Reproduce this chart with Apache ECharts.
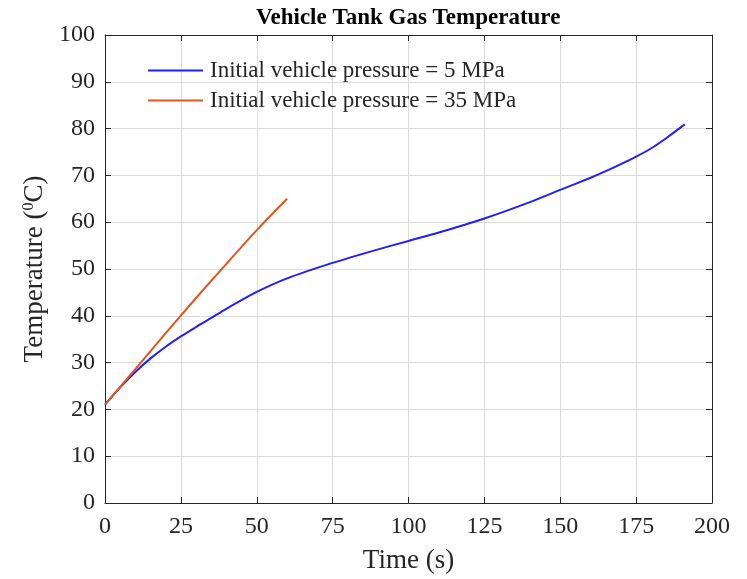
<!DOCTYPE html>
<html>
<head>
<meta charset="utf-8">
<script src="https://cdn.jsdelivr.net/npm/echarts@6/dist/echarts.min.js"></script>
<style>
  html, body { margin: 0; padding: 0; background: #fff; }
  #chart { width: 747px; height: 579px; }
</style>
</head>
<body>
<div id="chart"></div>
<script>
const time5 = [0, 5, 10, 15, 20, 25, 30, 40, 50, 60, 75, 90, 100, 110, 125, 140, 150, 160, 165, 170, 175, 180, 185, 191];
const temp5 = [21, 24.7, 28.0, 30.9, 33.4, 35.6, 37.6, 41.5, 45.1, 48, 51.3, 54.2, 56, 57.8, 60.8, 64.3, 66.9, 69.5, 70.9, 72.4, 74.0, 75.8, 78.0, 80.9];
const time35 = [0, 10, 20, 30, 40, 50, 60];
const temp35 = [21, 28.6, 36.3, 43.8, 51.1, 58.3, 65];
const seriesNames = ['Initial vehicle pressure = 5 MPa', 'Initial vehicle pressure = 35 MPa'];
const seriesColors = ['#1f1fff', '#e0561c'];

const font = 'Liberation Serif';
const axisColor = '#262626';

const zip = (xs, ys) => xs.map((x, i) => [x, ys[i]]);

let dom = document.getElementById('chart');
let myChart = echarts.init(dom, null, {renderer: 'canvas'});

const boxAxis = (extra) => Object.assign({
    type: 'value',
    axisLine: {show: true, onZero: false, lineStyle: {color: axisColor, width: 1}},
    axisTick: {show: true, inside: true, length: 6, lineStyle: {color: axisColor}},
    splitLine: {show: false},
    axisLabel: {show: false}
}, extra);

let option = {
    animation: false,
    backgroundColor: '#fff',
    title: {
        text: 'Vehicle Tank Gas Temperature',
        left: 251,
        top: 2,
        textStyle: {fontFamily: font, fontWeight: 'bold', fontSize: 23, color: '#000'}
    },
    legend: {
        orient: 'vertical',
        left: 143,
        top: 54,
        itemWidth: 55,
        itemHeight: 2,
        itemGap: 7,
        data: seriesNames.map(n => ({name: n, icon: 'rect'})),
        textStyle: {fontFamily: font, fontSize: 23, color: '#262626', padding: [0, 0, 0, 2]}
    },
    grid: {left: 105, right: 35, top: 35, bottom: 75, containLabel: false},
    xAxis: [
        {
            type: 'value', min: 0, max: 200, interval: 25,
            name: 'Time (s)', nameLocation: 'middle', nameGap: 44,
            nameTextStyle: {fontFamily: font, fontSize: 27, color: '#262626'},
            axisLine: {show: true, onZero: false, lineStyle: {color: axisColor, width: 1}},
            axisTick: {show: true, inside: true, length: 6, lineStyle: {color: axisColor}},
            axisLabel: {fontFamily: font, fontSize: 24, color: '#262626', margin: 12},
            splitLine: {show: true, lineStyle: {color: '#dcdcdc', width: 1}}
        },
        boxAxis({position: 'top', min: 0, max: 200, interval: 25})
    ],
    yAxis: [
        {
            type: 'value', min: 0, max: 100, interval: 10,
            name: 'Temperature ({sup|0}C)', nameLocation: 'middle', nameGap: 57,
            nameTextStyle: {
                fontFamily: font, fontSize: 27, color: '#262626',
                rich: {sup: {fontFamily: font, fontSize: 16, color: '#262626', verticalAlign: 'top', lineHeight: 27}}
            },
            axisLine: {show: true, onZero: false, lineStyle: {color: axisColor, width: 1}},
            axisTick: {show: true, inside: true, length: 6, lineStyle: {color: axisColor}},
            axisLabel: {fontFamily: font, fontSize: 24, color: '#262626', margin: 10},
            splitLine: {show: true, lineStyle: {color: '#dcdcdc', width: 1}}
        },
        boxAxis({position: 'right', min: 0, max: 100, interval: 10})
    ],
    series: [
        {
            name: seriesNames[0],
            type: 'line',
            data: zip(time5, temp5),
            symbol: 'none',
            smooth: 0.25,
            color: seriesColors[0],
            lineStyle: {width: 2, color: seriesColors[0]}
        },
        {
            name: seriesNames[1],
            type: 'line',
            data: zip(time35, temp35),
            symbol: 'none',
            smooth: 0.25,
            color: seriesColors[1],
            lineStyle: {width: 2, color: seriesColors[1]}
        }
    ]
};

myChart.setOption(option);
</script>
</body>
</html>
